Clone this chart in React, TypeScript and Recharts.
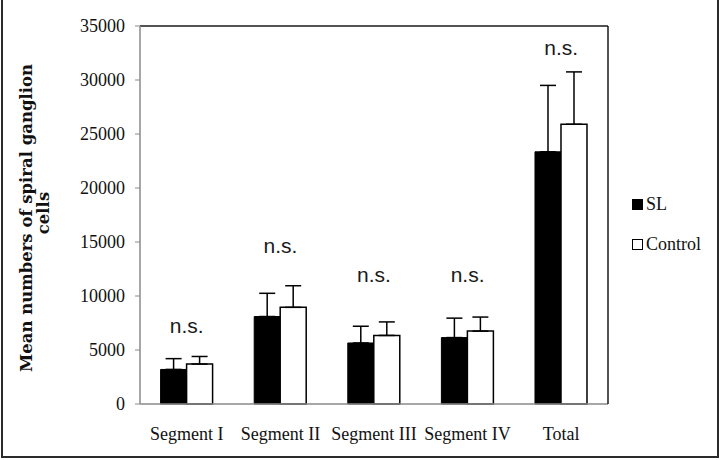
import React from 'react';
import {
  ComposedChart,
  Bar,
  Line,
  XAxis,
  YAxis,
  ErrorBar,
  LabelList,
  Label,
  Legend,
  ReferenceLine,
} from 'recharts';

const categories = ['Segment I', 'Segment II', 'Segment III', 'Segment IV', 'Total'];
const slMeans = [3200, 8100, 5650, 6150, 23350];
const slErrors = [1000, 2150, 1550, 1800, 6150];
const controlMeans = [3700, 8950, 6350, 6750, 25900];
const controlErrors = [700, 2000, 1250, 1300, 4850];
const nsLabelPos = [6600, 14000, 11300, 11300, 32300];
const nsText = ['n.s.', 'n.s.', 'n.s.', 'n.s.', 'n.s.'];
const yTicks = [0, 5000, 10000, 15000, 20000, 25000, 30000, 35000];
const yLabelLines = ['Mean numbers of spiral ganglion', 'cells'];
const legendOrder = ['SL', 'Control'];

const data = categories.map((c, i) => ({
  category: c,
  SL: slMeans[i],
  slErr: [0, slErrors[i]],
  Control: controlMeans[i],
  controlErr: [0, controlErrors[i]],
  ns: nsLabelPos[i],
}));

const serif = '"Liberation Serif", serif';

const renderNs = (props: any) => {
  const { x, y, index } = props;
  return (
    <text
      x={x}
      y={y}
      textAnchor="middle"
      fontFamily='"Liberation Sans", Arial, sans-serif'
      fontSize={21}
      fill="#1a1a1a"
    >
      {nsText[index]}
    </text>
  );
};

const renderYLabel = (props: any) => {
  const vb = props.viewBox || { x: 0, y: 26, width: 140, height: 378 };
  const cy = vb.y + vb.height / 2 + 3;
  return (
    <g>
      <text
        transform={`translate(26, ${cy}) rotate(-90)`}
        textAnchor="middle"
        dominantBaseline="central"
        fontFamily='"DejaVu Serif", serif'
        fontWeight="bold"
        fontSize={16.5}
        fill="#111"
      >
        {yLabelLines[0]}
      </text>
      <text
        transform={`translate(43, ${cy - 5}) rotate(-90)`}
        textAnchor="middle"
        dominantBaseline="central"
        fontFamily='"DejaVu Serif", serif'
        fontWeight="bold"
        fontSize={16.5}
        fill="#111"
      >
        {yLabelLines[1]}
      </text>
    </g>
  );
};

const renderLegend = (props: any) => {
  const items = (props.payload || [])
    .filter((p: any) => legendOrder.includes(p.value))
    .sort((a: any, b: any) => legendOrder.indexOf(a.value) - legendOrder.indexOf(b.value));
  return (
    <div style={{ fontFamily: serif, fontSize: 18, color: '#111', textAlign: 'left' }}>
      {items.map((p: any) => (
        <div key={p.value} style={{ display: 'flex', alignItems: 'center', height: 40 }}>
          <span
            style={{
              display: 'inline-block',
              width: 9,
              height: 9,
              background: p.value === 'SL' ? '#000' : '#fff',
              border: '1px solid #000',
              marginRight: 3,
            }}
          />
          <span>{p.value}</span>
        </div>
      ))}
    </div>
  );
};

export default function App() {
  return (
    <div
      style={{
        position: 'fixed',
        left: 0,
        top: 0,
        width: 720,
        height: 460,
        background: '#fff',
        overflow: 'hidden',
      }}
    >
      <ComposedChart
        width={720}
        height={460}
        data={data}
        margin={{ top: 26, right: 111, bottom: 26, left: 0 }}
        barCategoryGap="22%"
        barGap={0}
      >
        <XAxis
          dataKey="category"
          axisLine={{ stroke: '#8a8a8a', strokeWidth: 1.5 }}
          tickLine={false}
          tickSize={0}
          tickMargin={23}
          tick={{ fontFamily: serif, fontSize: 18, fill: '#111' }}
          interval={0}
        />
        <YAxis
          width={140}
          domain={[0, 35000]}
          ticks={yTicks}
          axisLine={{ stroke: '#8a8a8a', strokeWidth: 1.5 }}
          tickLine={{ stroke: '#8a8a8a' }}
          tickSize={5}
          tickMargin={10}
          tick={{ fontFamily: serif, fontSize: 18, fill: '#111' }}
          interval={0}
        >
          <Label content={renderYLabel} />
        </YAxis>
        <YAxis
          yAxisId="right"
          orientation="right"
          width={1}
          domain={[0, 35000]}
          tick={false}
          tickLine={false}
          axisLine={{ stroke: '#1a1a1a', strokeWidth: 1.5 }}
        />
        <ReferenceLine y={35000} stroke="#1a1a1a" strokeWidth={1.5} />
        <Legend
          layout="horizontal"
          verticalAlign="middle"
          align="center"
          content={renderLegend}
          wrapperStyle={{ left: 632, top: 184, width: 88, height: 80 }}
        />
        <Bar dataKey="SL" name="SL" fill="#000" stroke="#000" strokeWidth={1} isAnimationActive={false}>
          <ErrorBar dataKey="slErr" width={8} stroke="#000" strokeWidth={1.5} direction="y" />
        </Bar>
        <Bar dataKey="Control" name="Control" fill="#fff" stroke="#000" strokeWidth={1.5} isAnimationActive={false}>
          <ErrorBar dataKey="controlErr" width={8} stroke="#000" strokeWidth={1.5} direction="y" />
        </Bar>
        <Line
          dataKey="ns"
          name="ns"
          stroke="none"
          dot={false}
          activeDot={false}
          legendType="none"
          isAnimationActive={false}
        >
          <LabelList dataKey="ns" content={renderNs} />
        </Line>
      </ComposedChart>
      <div
        style={{
          position: 'absolute',
          left: 1,
          top: -4,
          width: 718,
          height: 462,
          boxSizing: 'border-box',
          border: '2px solid #2a2a2a',
          pointerEvents: 'none',
        }}
      />
    </div>
  );
}
